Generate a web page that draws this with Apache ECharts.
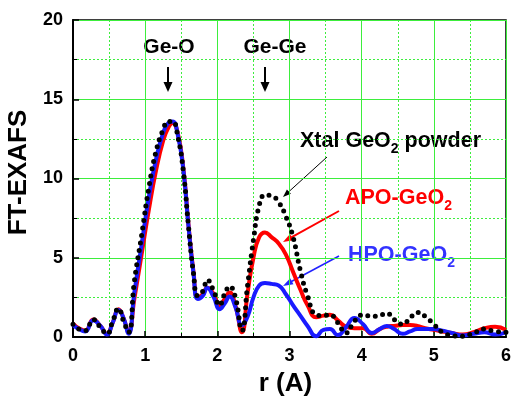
<!DOCTYPE html>
<html>
<head>
<meta charset="utf-8">
<script src="https://cdn.jsdelivr.net/npm/echarts@6/dist/echarts.min.js"></script>
<style>
html,body{margin:0;padding:0;background:#fff;}
#chart{width:513px;height:397px;}
</style>
</head>
<body>
<div id="chart"></div>
<script>
// r values (Angstrom)
var rVals = [0, 0.08, 0.17, 0.28, 0.38, 0.47, 0.55, 0.63, 0.7, 0.77, 0.85, 0.95, 1.05, 1.15, 1.25, 1.32, 1.38, 1.45, 1.53, 1.6, 1.67, 1.73, 1.8, 1.86, 1.95, 2.03, 2.1, 2.17, 2.25, 2.34, 2.42, 2.5, 2.58, 2.66, 2.75, 2.85, 2.95, 3.05, 3.15, 3.25, 3.37, 3.47, 3.56, 3.67, 3.78, 3.9, 4.02, 4.14, 4.25, 4.35, 4.45, 4.57, 4.67, 4.77, 4.88, 5.0, 5.12, 5.25, 5.4, 5.55, 5.7, 5.85, 6.0];

var hpoVals = [0.75, 0.5, 0.35, 1.05, 0.7, 0.15, 0.9, 1.7, 1.2, 0.2, 2.8, 5.8, 8.8, 11.2, 12.9, 13.5, 13.6, 12.8, 10.5, 7.0, 4.0, 2.4, 2.6, 3.1, 2.5, 1.75, 2.1, 2.55, 1.9, 0.75, 1.3, 2.5, 3.25, 3.4, 3.35, 3.25, 2.7, 2.0, 1.35, 0.7, 0.05, 0.45, 0.5, 0.12, 0.6, 1.2, 0.8, 0.25, 0.5, 0.7, 0.5, 0.2, 0.35, 0.5, 0.5, 0.5, 0.4, 0.25, 0.1, 0.2, 0.3, 0.15, 0.3];

var apoVals = [0.85, 0.55, 0.4, 1.1, 0.7, 0.2, 0.9, 1.75, 1.2, 0.3, 2.4, 5.2, 8.0, 10.5, 12.4, 13.2, 13.5, 12.9, 10.6, 7.1, 4.1, 2.5, 2.7, 3.1, 2.7, 1.95, 2.4, 2.8, 2.0, 0.3, 2.8, 5.0, 6.3, 6.6, 6.3, 5.9, 5.2, 4.1, 3.0, 2.0, 1.25, 1.35, 1.4, 1.05, 0.65, 0.55, 0.55, 0.2, 0.5, 0.65, 0.7, 0.75, 0.75, 0.7, 0.55, 0.45, 0.35, 0.25, 0.15, 0.3, 0.55, 0.65, 0.45];

var xtalVals = [0.8, 0.5, 0.4, 1.1, 0.6, 0.2, 1.0, 1.8, 1.0, 0.3, 3.5, 6.4, 9.4, 11.7, 13.1, 13.6, 13.6, 12.7, 10.4, 7.0, 4.0, 2.6, 2.9, 3.6, 2.9, 2.0, 2.7, 3.2, 2.5, 0.4, 3.3, 6.1, 8.3, 8.95, 8.9, 8.5, 7.6, 6.3, 4.2, 2.6, 1.4, 1.35, 1.4, 0.9, 0.25, 1.0, 1.4, 1.3, 1.35, 1.5, 1.1, 0.8, 1.2, 1.55, 1.3, 0.8, 0.3, 0.1, 0.05, 0.25, 0.5, 0.35, 0.3];

var xTicks = [0, 1, 2, 3, 4, 5, 6];
var yTicks = [0, 5, 10, 15, 20];

function pairs(vals){ return rVals.map(function(r,i){ return [r, vals[i]]; }); }

var FONT = '"Liberation Sans", Arial, sans-serif';
var GREEN = '#3dee3d';

var chart = echarts.init(document.getElementById('chart'), null, {renderer:'canvas'});

function arrow(x1,y1,x2,y2,color,w,headL,headW){
  var dx=x2-x1, dy=y2-y1, L=Math.sqrt(dx*dx+dy*dy), ux=dx/L, uy=dy/L;
  var bx=x2-ux*headL, by=y2-uy*headL, px=-uy, py=ux;
  return [
    {type:'line', silent:true, shape:{x1:x1,y1:y1,x2:bx+ux*1,y2:by+uy*1}, style:{stroke:color,lineWidth:w}},
    {type:'polygon', silent:true, shape:{points:[[x2,y2],[bx+px*headW/2,by+py*headW/2],[bx-px*headW/2,by-py*headW/2]]}, style:{fill:color}}
  ];
}

function label(text, x, y, color){
  return {type:'text', silent:true, x:x, y:y, style:{
    text:text, fill:color, align:'left', verticalAlign:'middle',
    rich:{
      m:{fontFamily:FONT,fontWeight:'bold',fontSize:21.5,lineHeight:30,fill:color,verticalAlign:'middle'},
      s:{fontFamily:FONT,fontWeight:'bold',fontSize:14,lineHeight:14,fill:color,verticalAlign:'bottom'}
    }
  }};
}

var graphics = [];
graphics.push({type:'text', silent:true, x:169, y:47, style:{text:'Ge-O', fill:'#000', align:'center', verticalAlign:'middle', font:'bold 21px '+FONT}});
graphics.push({type:'text', silent:true, x:275, y:47, style:{text:'Ge-Ge', fill:'#000', align:'center', verticalAlign:'middle', font:'bold 21px '+FONT}});
graphics = graphics.concat(arrow(168,67,168,92,'#000',2,10,9));
graphics = graphics.concat(arrow(265,67,265,92,'#000',2,10,9));
graphics = graphics.concat(arrow(327,157,283,197,'#000',1,8,6));
graphics = graphics.concat(arrow(339,211,283,242,'#ff0000',2,10,7));
graphics = graphics.concat(arrow(339,256,283,286,'#2222ff',1.5,10,7));
graphics.push(label('{m|Xtal GeO}{s|2}{m| powder}', 300, 141.5, '#000'));
graphics.push(label('{m|APO-GeO}{s|2}', 345, 198.5, '#ff0000'));
graphics.push(label('{m|HPO-GeO}{s|2}', 348, 255, '#3333ff'));

var option = {
  animation:false,
  backgroundColor:'#fff',
  grid:{left:73, right:7, top:20, bottom:60, outerBoundsMode:'none', containLabel:false, show:true, borderColor:'#000', borderWidth:1.5, backgroundColor:'transparent'},
  xAxis:{
    type:'value', min:xTicks[0], max:xTicks[xTicks.length-1], interval:1,
    name:'r (A)', nameLocation:'middle', nameGap:34,
    nameTextStyle:{fontFamily:FONT, fontWeight:'bold', fontSize:26, color:'#000', padding:[0,8,0,0]},
    axisLine:{show:true, onZero:false, lineStyle:{color:'#000', width:2}},
    axisTick:{show:true, inside:true, length:6, lineStyle:{color:'#000', width:1.5}},
    minorTick:{show:true, splitNumber:2, length:4, lineStyle:{color:'#000', width:1}},
    axisLabel:{fontFamily:FONT, fontWeight:'bold', fontSize:18, color:'#000', margin:10},
    splitLine:{show:true, lineStyle:{color:GREEN, width:1}},
    minorSplitLine:{show:true, lineStyle:{color:GREEN, width:1, type:[2,2]}}
  },
  yAxis:{
    type:'value', min:yTicks[0], max:yTicks[yTicks.length-1], interval:5,
    name:'FT-EXAFS', nameLocation:'middle', nameGap:30,
    nameTextStyle:{fontFamily:FONT, fontWeight:'bold', fontSize:26, color:'#000', padding:[0,0,0,12]},
    axisLine:{show:true, onZero:false, lineStyle:{color:'#000', width:2}},
    axisTick:{show:true, inside:true, length:6, lineStyle:{color:'#000', width:1.5}},
    minorTick:{show:true, splitNumber:2, length:4, lineStyle:{color:'#000', width:1}},
    axisLabel:{fontFamily:FONT, fontWeight:'bold', fontSize:18, color:'#000', margin:10},
    splitLine:{show:true, lineStyle:{color:GREEN, width:1}},
    minorSplitLine:{show:true, lineStyle:{color:GREEN, width:1, type:[2,2]}}
  },
  series:[
    {name:'APO-GeO2', type:'line', data:pairs(apoVals), showSymbol:false, smooth:0.5,
     lineStyle:{color:'#ff0000', width:4}, z:2},
    {name:'HPO-GeO2', type:'line', data:pairs(hpoVals), showSymbol:false, smooth:0.5,
     lineStyle:{color:'#1a1aff', width:4}, z:3},
    {name:'Xtal GeO2 powder', type:'line', data:pairs(xtalVals), showSymbol:false, smooth:0.5,
     lineStyle:{color:'#000', width:5, type:[0,7.5], cap:'round'}, z:4}
  ],
  graphic:graphics
};
chart.setOption(option);
</script>
</body>
</html>
